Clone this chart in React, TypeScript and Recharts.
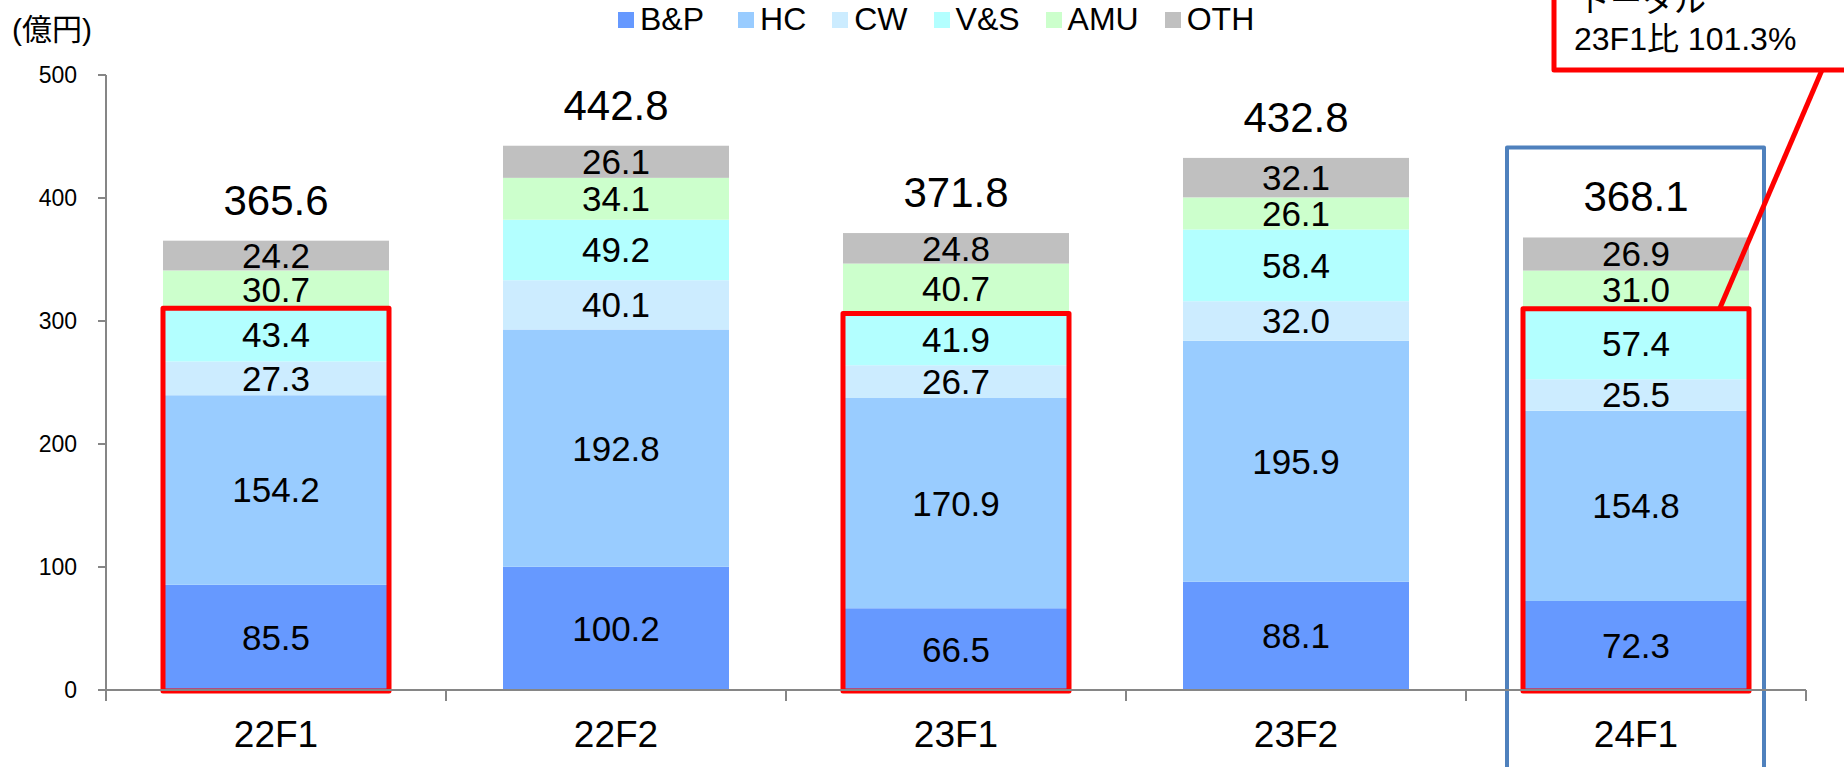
import React from 'react';
import { BarChart, Bar, XAxis, YAxis, LabelList } from 'recharts';

const categories = ['22F1', '22F2', '23F1', '23F2', '24F1'];
const bp = [85.5, 100.2, 66.5, 88.1, 72.3];
const hc = [154.2, 192.8, 170.9, 195.9, 154.8];
const cw = [27.3, 40.1, 26.7, 32.0, 25.5];
const vs = [43.4, 49.2, 41.9, 58.4, 57.4];
const amu = [30.7, 34.1, 40.7, 26.1, 31.0];
const oth = [24.2, 26.1, 24.8, 32.1, 26.9];
const totals = [365.6, 442.8, 371.8, 432.8, 368.1];
const yTicks = [0, 100, 200, 300, 400, 500];

// categories whose B&P..V&S stack is outlined in red
const highlighted = ['22F1', '23F1', '24F1'];
const boxedKeys = ['bp', 'hc', 'cw', 'vs'];
const focusCategory = '24F1';
const focusTopValue = 441;
const calloutLines = ['トータル', '23F1比 101.3%'];
const unitLabel = '(億円)';

const series = [
  { key: 'bp', name: 'B&P', color: '#6699FF', values: bp },
  { key: 'hc', name: 'HC', color: '#99CCFF', values: hc },
  { key: 'cw', name: 'CW', color: '#CCECFF', values: cw },
  { key: 'vs', name: 'V&S', color: '#B3FFFF', values: vs },
  { key: 'amu', name: 'AMU', color: '#CCFFCC', values: amu },
  { key: 'oth', name: 'OTH', color: '#C0C0C0', values: oth },
];

const data = categories.map((category, i) => {
  const row: any = { category, total: totals[i] };
  series.forEach((s) => {
    row[s.key] = s.values[i];
  });
  return row;
});

const FONT = '"Liberation Sans", Arial, "Noto Sans CJK JP", sans-serif';
const AXIS = '#868686';
const RED = '#FF0000';

const fmt = (v: any) => Number(v).toFixed(1);

const CategoryTick = (props: any) => {
  const { x, y, payload, index } = props;
  const half = payload && payload.offset ? payload.offset : 170;
  const last = index === categories.length - 1;
  return (
    <g>
      <line x1={x - half} x2={x - half} y1={y} y2={y + 11} stroke={AXIS} strokeWidth={2} />
      {last && <line x1={x + half} x2={x + half} y1={y} y2={y + 11} stroke={AXIS} strokeWidth={2} />}
      <text x={x} y={y + 57} textAnchor="middle" fontSize={37} fill="#000" fontFamily={FONT}>
        {payload.value}
      </text>
    </g>
  );
};

const OthShape = (props: any) => {
  const { x, y, width, height, fill, payload } = props;
  const below = series.slice(0, 5).reduce((s, ser) => s + payload[ser.key], 0);
  const ppu = height / payload.oth;
  const zeroY = y + height + below * ppu;
  const boxed = highlighted.includes(payload.category);
  const boxTop = zeroY - boxedKeys.reduce((s, k) => s + payload[k], 0) * ppu;
  const focus = payload.category === focusCategory;
  return (
    <g>
      <rect x={x} y={y} width={width} height={height} fill={fill} />
      {boxed && (
        <rect
          x={x}
          y={boxTop}
          width={width}
          height={zeroY - boxTop + 1}
          fill="none"
          stroke={RED}
          strokeWidth={5}
          strokeLinejoin="round"
        />
      )}
      {focus && (
        <g>
          <rect
            x={x - 16}
            y={zeroY - focusTopValue * ppu}
            width={width + 31}
            height={800}
            fill="none"
            stroke="#4F81BD"
            strokeWidth={4}
            strokeLinejoin="round"
          />
          <line x1={x + width * 0.87} y1={boxTop} x2={1822} y2={70} stroke={RED} strokeWidth={5} />
          <rect x={1554} y={-40} width={340} height={110} fill="#fff" stroke={RED} strokeWidth={5} strokeLinejoin="round" />
          <text x={1578} y={12} fontSize={32} fontFamily={FONT} fill="#000">
            {calloutLines[0]}
          </text>
          <text x={1574} y={50} fontSize={32} fontFamily={FONT} fill="#000">
            {calloutLines[1]}
          </text>
        </g>
      )}
    </g>
  );
};

export default function App() {
  return (
    <div style={{ position: 'absolute', left: 0, top: 0, width: 1844, height: 767, overflow: 'hidden', background: '#fff', fontFamily: FONT }}>
      <div style={{ position: 'absolute', left: 12, top: 5, fontSize: 30, color: '#000' }}>{unitLabel}</div>
      <div style={{ position: 'absolute', left: 618, top: 1, display: 'flex', alignItems: 'center', gap: 26, fontSize: 32, color: '#000' }}>
        {series.map((s, i) => (
          <div key={s.key} style={{ display: 'flex', alignItems: 'center', marginRight: i === 0 ? 8 : 0 }}>
            <span style={{ width: 16, height: 16, background: s.color, display: 'inline-block', marginRight: 6 }} />
            <span>{s.name}</span>
          </div>
        ))}
      </div>
      <BarChart
        width={1844}
        height={767}
        data={data}
        margin={{ top: 75, right: 38, bottom: 0, left: 26 }}
        barSize={226}
        style={{ fontFamily: FONT }}
      >
        <XAxis
          dataKey="category"
          height={77}
          tickSize={0}
          tickMargin={0}
          tick={<CategoryTick />}
          axisLine={{ stroke: AXIS, strokeWidth: 2 }}
          tickLine={false}
          interval={0}
        />
        <YAxis
          width={80}
          domain={[0, 500]}
          ticks={yTicks}
          tickSize={8}
          tickMargin={21}
          tick={{ fontSize: 23, fill: '#000' }}
          axisLine={{ stroke: AXIS, strokeWidth: 2 }}
          tickLine={{ stroke: AXIS, strokeWidth: 2 }}
          allowDecimals={false}
        />
        {series.map((s) => (
          <Bar
            key={s.key}
            dataKey={s.key}
            name={s.name}
            stackId="a"
            fill={s.color}
            isAnimationActive={false}
            shape={s.key === 'oth' ? <OthShape /> : undefined}
          >
            <LabelList dataKey={s.key} position="center" formatter={fmt} fontSize={35} fill="#000" fontFamily={FONT} />
            {s.key === 'oth' && (
              <LabelList dataKey="total" position="top" offset={26} formatter={fmt} fontSize={42} fill="#000" fontFamily={FONT} />
            )}
          </Bar>
        ))}
      </BarChart>
    </div>
  );
}
